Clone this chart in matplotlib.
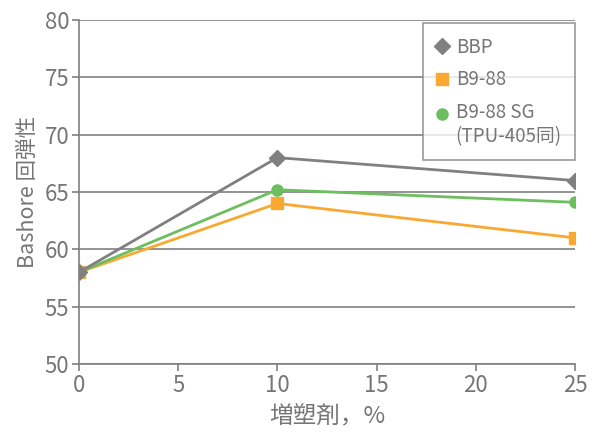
import matplotlib
matplotlib.use("Agg")
import matplotlib.pyplot as plt
import numpy as np

plt.rcParams['font.family'] = ['Noto Sans CJK JP', 'DejaVu Sans']

# data
x = [0, 10, 25]
bbp = [58, 68, 66]
b988 = [58, 64, 61]
b988_sg = [58, 65.2, 64.1]

gray = '#808080'
orange = '#F9A932'
green = '#6DBE5F'
txt = '#767676'

fig = plt.figure(figsize=(6.1, 4.4), dpi=100)
ax = fig.add_axes([0.1295, 0.1727, 0.813, 0.7818])

ax.plot(x, b988, color=orange, lw=2.0, marker='s', ms=8.5, zorder=3, label='B9-88')
ax.plot(x, b988_sg, color=green, lw=2.0, marker='o', ms=8, zorder=4,
        label='B9-88 SG\n(TPU-405同)')
ax.plot(x, bbp, color=gray, lw=2.0, marker='D', ms=8.5, zorder=5, label='BBP')

ax.set_xlim(0, 25)
ax.set_ylim(50, 80)
ax.set_xticks([0, 5, 10, 15, 20, 25])
ax.set_yticks([50, 55, 60, 65, 70, 75, 80])
ax.yaxis.grid(True, color=gray, lw=1.2)
ax.set_axisbelow(True)

for s in ['top', 'right']:
    ax.spines[s].set_visible(False)
for s in ['left', 'bottom']:
    ax.spines[s].set_color(gray)
    ax.spines[s].set_linewidth(1.2)
ax.tick_params(colors=gray, labelcolor=txt, labelsize=16, length=5, width=1.2, pad=2)

ax.set_xlabel('増塑剤，%', fontsize=17, color=txt, labelpad=6)
ax.set_ylabel('Bashore 回弾性', fontsize=15.5, color=txt, labelpad=4)

h, l = ax.get_legend_handles_labels()
order = [2, 0, 1]
leg = ax.legend([h[i] for i in order], [l[i] for i in order],
                loc='upper right', bbox_to_anchor=(1.0, 0.99),
                fontsize=13.5, frameon=True, fancybox=False,
                handlelength=0.6, handletextpad=0.45, labelspacing=0.62,
                borderpad=0.7, borderaxespad=0.0)
leg.get_frame().set_edgecolor(gray)
leg.get_frame().set_linewidth(1.2)
for t in leg.get_texts():
    t.set_color(txt)
for line in leg.legend_handles:
    line.set_linestyle('none')
# put the green marker beside the first line of its two-line label
sg = leg.legend_handles[2]
sg.set_ydata(np.asarray(sg.get_ydata()) + 8.5)

fig.savefig('out.png', dpi=100)
